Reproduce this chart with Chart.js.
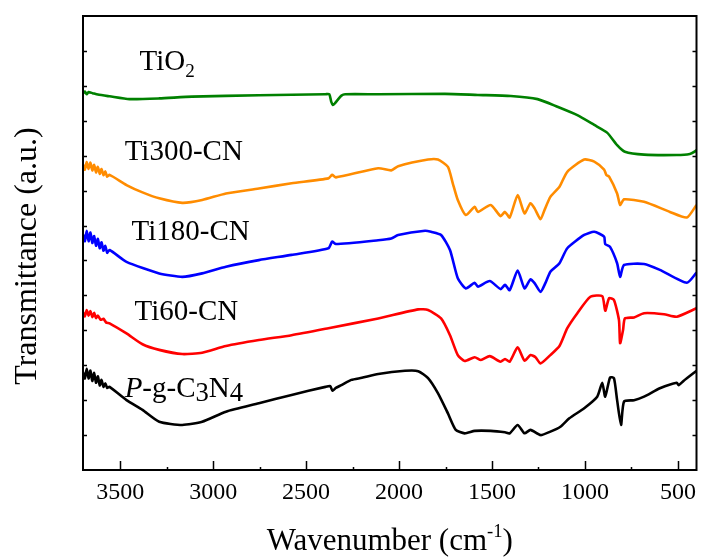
<!DOCTYPE html>
<html>
<head>
<meta charset="utf-8">
<script src="https://cdn.jsdelivr.net/npm/chart.js@4.4.1/dist/chart.umd.min.js"></script>
<style>
  html, body { margin: 0; padding: 0; background: #fff; }
</style>
</head>
<body>
<canvas id="ftirChart" width="704" height="558"></canvas>
<script>
// Espectros FTIR: wavenumber (cm-1) -> transmitancia desplazada (u.a.)
const wnTiO2 = [3700, 3690, 3680, 3670, 3648, 3620, 3557, 3450, 3290, 3113, 2754, 2396, 2375, 2365, 2355, 2345, 2330, 2310, 2290, 2112, 1753, 1576, 1399, 1255, 1148, 1041, 950, 881, 827, 785, 682, 506, 436, 409, 400];
const tTiO2 = [10.78, 10.84, 10.76, 10.82, 10.79, 10.75, 10.70, 10.62, 10.64, 10.69, 10.73, 10.76, 10.76, 10.55, 10.45, 10.50, 10.60, 10.72, 10.76, 10.76, 10.77, 10.74, 10.71, 10.62, 10.40, 10.16, 9.88, 9.66, 9.30, 9.11, 9.03, 9.02, 9.05, 9.12, 9.16];

const wn300 = [3700, 3690, 3680, 3670, 3660, 3650, 3640, 3630, 3620, 3610, 3600, 3590, 3580, 3570, 3557, 3466, 3380, 3290, 3166, 3059, 2931, 2754, 2578, 2380, 2360, 2340, 2112, 2042, 2005, 1844, 1791, 1737, 1711, 1684, 1641, 1593, 1576, 1507, 1454, 1430, 1405, 1362, 1325, 1293, 1271, 1239, 1218, 1186, 1137, 1095, 1004, 950, 897, 885, 870, 827, 811, 790, 682, 543, 452, 400];
const t300 = [8.75, 8.60, 8.82, 8.62, 8.80, 8.58, 8.74, 8.52, 8.68, 8.48, 8.62, 8.44, 8.55, 8.40, 8.45, 8.16, 7.95, 7.78, 7.65, 7.73, 7.92, 8.06, 8.21, 8.35, 8.45, 8.38, 8.64, 8.58, 8.70, 8.89, 8.89, 8.68, 8.21, 7.73, 7.30, 7.54, 7.39, 7.59, 7.27, 7.39, 7.23, 7.87, 7.35, 7.64, 7.49, 7.18, 7.44, 7.82, 8.11, 8.54, 8.89, 8.83, 8.60, 8.45, 8.40, 7.92, 7.59, 7.75, 7.68, 7.39, 7.23, 7.59];

const wn180 = [3700, 3690, 3680, 3670, 3660, 3650, 3640, 3630, 3620, 3610, 3600, 3590, 3580, 3570, 3557, 3466, 3290, 3166, 3059, 2931, 2754, 2578, 2380, 2360, 2340, 2112, 2042, 2005, 1860, 1828, 1774, 1726, 1684, 1641, 1593, 1576, 1512, 1454, 1430, 1405, 1362, 1325, 1293, 1271, 1239, 1213, 1186, 1137, 1095, 1004, 950, 897, 891, 865, 827, 811, 790, 682, 597, 452, 400];
const t180 = [6.75, 6.55, 6.85, 6.55, 6.80, 6.50, 6.70, 6.42, 6.62, 6.35, 6.52, 6.28, 6.42, 6.22, 6.30, 5.96, 5.63, 5.53, 5.63, 5.82, 6.01, 6.16, 6.35, 6.54, 6.47, 6.58, 6.63, 6.73, 6.85, 6.82, 6.73, 6.30, 5.49, 5.20, 5.36, 5.25, 5.41, 5.18, 5.30, 5.15, 5.71, 5.20, 5.46, 5.35, 5.10, 5.35, 5.68, 5.92, 6.35, 6.73, 6.82, 6.68, 6.47, 6.39, 5.92, 5.53, 5.87, 5.90, 5.73, 5.36, 5.65];

const wn60 = [3700, 3690, 3680, 3670, 3660, 3650, 3640, 3630, 3620, 3605, 3590, 3575, 3557, 3466, 3380, 3290, 3166, 3059, 2931, 2754, 2578, 2380, 2112, 1897, 1844, 1774, 1726, 1684, 1647, 1593, 1560, 1512, 1454, 1430, 1405, 1362, 1325, 1293, 1266, 1239, 1186, 1137, 1095, 1041, 971, 907, 891, 870, 844, 817, 811, 795, 785, 736, 682, 575, 506, 400];
const t60 = [4.52, 4.40, 4.58, 4.42, 4.55, 4.38, 4.50, 4.35, 4.42, 4.30, 4.33, 4.22, 4.20, 3.91, 3.60, 3.44, 3.32, 3.36, 3.55, 3.72, 3.86, 4.06, 4.34, 4.60, 4.58, 4.34, 3.86, 3.29, 3.12, 3.23, 3.15, 3.26, 3.10, 3.18, 3.10, 3.51, 3.13, 3.29, 3.23, 3.05, 3.29, 3.55, 4.06, 4.49, 4.96, 4.98, 4.56, 4.92, 4.87, 4.29, 3.63, 4.01, 4.34, 4.37, 4.49, 4.46, 4.39, 4.63];

const wnPCN = [3700, 3690, 3680, 3670, 3660, 3650, 3640, 3630, 3620, 3610, 3600, 3590, 3580, 3570, 3557, 3466, 3380, 3290, 3166, 3059, 2931, 2754, 2578, 2396, 2370, 2358, 2340, 2310, 2257, 2200, 2112, 1968, 1897, 1844, 1791, 1737, 1695, 1647, 1593, 1507, 1430, 1405, 1362, 1325, 1293, 1239, 1186, 1132, 1084, 1004, 934, 907, 891, 865, 844, 827, 806, 790, 736, 682, 597, 506, 496, 470, 400];
const tPCN = [2.80, 2.62, 2.90, 2.62, 2.85, 2.55, 2.78, 2.50, 2.68, 2.42, 2.58, 2.38, 2.48, 2.35, 2.38, 2.00, 1.72, 1.38, 1.29, 1.38, 1.67, 1.91, 2.15, 2.38, 2.40, 2.27, 2.35, 2.43, 2.58, 2.64, 2.75, 2.84, 2.83, 2.63, 2.20, 1.62, 1.15, 1.05, 1.12, 1.12, 1.08, 1.05, 1.29, 1.05, 1.15, 1.00, 1.10, 1.24, 1.48, 1.77, 2.10, 2.50, 2.10, 2.65, 2.63, 2.00, 1.29, 1.96, 2.00, 2.10, 2.34, 2.50, 2.43, 2.55, 2.84];

// Ejes
const xTicks = [3500, 3000, 2500, 2000, 1500, 1000, 500];
const xMinorTicks = [3250, 2750, 2250, 1750, 1250, 750];
const yTicks = [1, 2, 3, 4, 5, 6, 7, 8, 9, 10, 11, 12];

// Etiquetas de cada espectro (texto con subindices) y su ancla en unidades de datos
const seriesLabels = [
    [['TiO', ''], ['2', 'sub']],
    [['Ti300-CN', '']],
    [['Ti180-CN', '']],
    [['Ti60-CN', '']],
    [['P', 'it'], ['-g-C', ''], ['3', 'sub2'], ['N', ''], ['4', 'sub2']]
];
const labelWn = [3396, 3476, 3439, 3423, 3476];
const labelT = [11.45, 8.89, 6.58, 4.29, 2.09];

const FONT = '"Liberation Serif", "Times New Roman", serif';

function toPoints(xs, ys) {
    return xs.map((v, i) => ({ x: v, y: ys[i] }));
}

function makeSet(label, xs, ys, color) {
    return {
        label: label,
        data: toPoints(xs, ys),
        borderColor: color,
        backgroundColor: color,
        borderWidth: 2.6,
        pointRadius: 0,
        tension: 0.2,
        fill: false
    };
}

// Dibuja texto con partes en cursiva / subindice
function partStyle(kind, size) {
    let s = size, dy = 0, style = '';
    if (kind === 'sub') { s = size * 0.66; dy = 7; }
    if (kind === 'sub2') { s = size * 0.92; dy = 4; }
    if (kind === 'sup') { s = size * 0.6; dy = -13; }
    if (kind === 'it') { style = 'italic '; }
    return { font: style + s + 'px ' + FONT, dy: dy };
}

function drawRich(ctx, parts, x, y, size) {
    let cx = x;
    parts.forEach(([t, kind]) => {
        const st = partStyle(kind, size);
        ctx.font = st.font;
        ctx.fillText(t, cx, y + st.dy);
        cx += ctx.measureText(t).width;
    });
    return cx - x;
}

function richWidth(ctx, parts, size) {
    let w = 0;
    parts.forEach(([t, kind]) => {
        ctx.font = partStyle(kind, size).font;
        w += ctx.measureText(t).width;
    });
    return w;
}

const decorPlugin = {
    id: 'decor',
    afterDraw(chart) {
        const ctx = chart.ctx;
        const a = chart.chartArea;
        const xs = chart.scales.x;
        const ys = chart.scales.y;
        ctx.save();

        // marco
        ctx.strokeStyle = '#000';
        ctx.lineWidth = 2;
        ctx.strokeRect(a.left, a.top, a.right - a.left, a.bottom - a.top);

        // marcas hacia dentro
        ctx.lineWidth = 1.5;
        ctx.beginPath();
        xTicks.forEach(v => {
            const px = Math.round(xs.getPixelForValue(v)) + 0.5;
            ctx.moveTo(px, a.bottom);
            ctx.lineTo(px, a.bottom - 9);
        });
        xMinorTicks.forEach(v => {
            const px = Math.round(xs.getPixelForValue(v)) + 0.5;
            ctx.moveTo(px, a.bottom);
            ctx.lineTo(px, a.bottom - 3);
        });
        yTicks.forEach(v => {
            const py = Math.round(ys.getPixelForValue(v)) + 0.5;
            ctx.moveTo(a.left, py);
            ctx.lineTo(a.left + 4, py);
            ctx.moveTo(a.right, py);
            ctx.lineTo(a.right - 4, py);
        });
        ctx.stroke();

        ctx.fillStyle = '#000';
        ctx.textBaseline = 'alphabetic';
        ctx.textAlign = 'left';

        // etiquetas de series
        seriesLabels.forEach((parts, i) => {
            const px = xs.getPixelForValue(labelWn[i]);
            const py = ys.getPixelForValue(labelT[i]);
            drawRich(ctx, parts, px, py, 29);
        });

        // titulo eje x
        const xTitle = [['Wavenumber (cm', ''], ['-1', 'sup'], [')', '']];
        const wx = richWidth(ctx, xTitle, 31);
        drawRich(ctx, xTitle, (a.left + a.right) / 2 - wx / 2, 550, 31);

        // titulo eje y
        ctx.translate(28, (a.top + a.bottom) / 2 + 13);
        ctx.rotate(-Math.PI / 2);
        ctx.font = '32px ' + FONT;
        ctx.textAlign = 'center';
        ctx.textBaseline = 'middle';
        ctx.fillText('Transmittance (a.u.)', 0, 0);

        ctx.restore();
    }
};

new Chart(document.getElementById('ftirChart'), {
    type: 'line',
    data: {
        datasets: [
            makeSet('TiO2', wnTiO2, tTiO2, '#008000'),
            makeSet('Ti300-CN', wn300, t300, '#ff8c00'),
            makeSet('Ti180-CN', wn180, t180, '#0000ff'),
            makeSet('Ti60-CN', wn60, t60, '#ff0000'),
            makeSet('P-g-C3N4', wnPCN, tPCN, '#000000')
        ]
    },
    options: {
        responsive: false,
        animation: false,
        events: [],
        layout: { padding: { top: 16, right: 3, left: 0, bottom: 0 } },
        plugins: {
            legend: { display: false },
            tooltip: { enabled: false }
        },
        scales: {
            x: {
                type: 'linear',
                reverse: true,
                min: 400,
                max: 3700,
                afterBuildTicks: s => { s.ticks = xTicks.map(v => ({ value: v })); },
                afterFit: s => { s.height = 88; },
                grid: { display: false, drawTicks: false },
                border: { display: false },
                ticks: {
                    color: '#000',
                    padding: 8,
                    maxRotation: 0,
                    autoSkip: false,
                    font: { family: FONT, size: 24 },
                    callback: v => String(v)
                }
            },
            y: {
                type: 'linear',
                min: 0,
                max: 13,
                afterFit: s => { s.width = 83; },
                grid: { display: false, drawTicks: false },
                border: { display: false },
                ticks: { display: false }
            }
        }
    },
    plugins: [decorPlugin]
});
</script>
</body>
</html>
